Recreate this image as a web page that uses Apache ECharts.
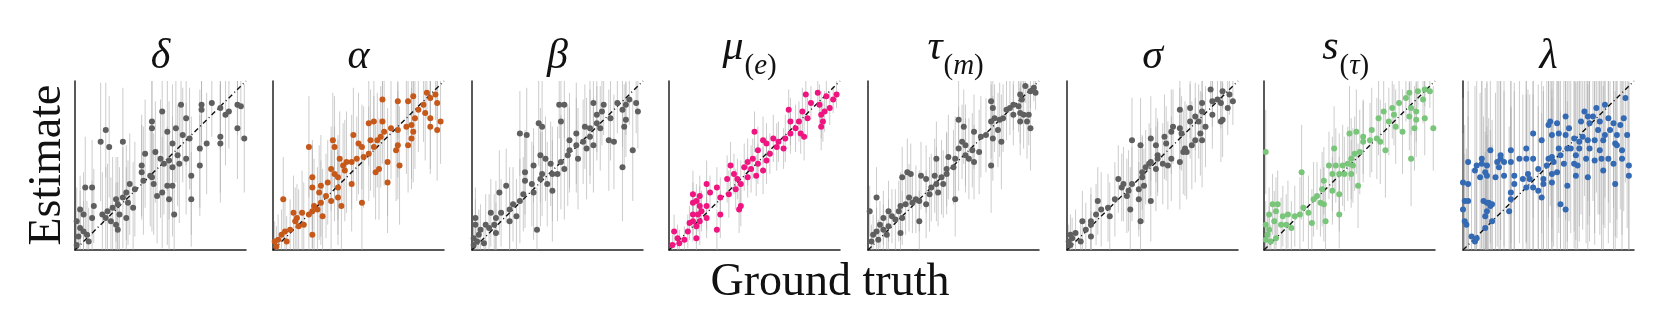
<!DOCTYPE html>
<html>
<head>
<meta charset="utf-8">
<script src="https://cdn.jsdelivr.net/npm/echarts@6/dist/echarts.min.js"></script>
<style>
  html, body { margin: 0; background: #fff; }
  #chart { width: 1661px; height: 332px; }
</style>
</head>
<body>
<div id="chart"></div>
<script>
// each row: [ground truth, estimate, error half-width], all on a 0-100 scale
const deltaRows = [[18,71,28],[15,64,35],[20,61,30],[28,64,32],[6,37,30],[10,37,28],[51,82,25],[45,76,30],[45,72,28],[62,86,20],[74,86,22],[74,83,25],[80,87,20],[85,84,25],[88,80,30],[90,82,22],[95,86,18],[97,85,20],[95,72,30],[99,66,32],[65,78,28],[59,72,32],[54,70,35],[67,66,30],[63,68,28],[57,63,35],[73,60,35],[77,63,30],[85,67,33],[85,63,35],[41,57,32],[47,58,30],[50,54,35],[52,51,30],[55,53,35],[60,56,30],[65,54,33],[61,51,35],[57,49,30],[39,50,30],[39,46,28],[45,43,32],[46,39,30],[51,34,33],[54,38,35],[57,38,30],[55,30,32],[48,32,28],[68,44,35],[73,50,30],[68,30,28],[58,21,30],[32,39,30],[35,36,28],[40,41,32],[44,44,30],[30,34,28],[28,31,30],[25,27,28],[24,30,25],[22,25,30],[19,23,28],[16,21,25],[18,19,30],[21,17,26],[26,21,28],[30,19,30],[34,25,27],[31,28,25],[11,26,22],[3,24,20],[5,21,25],[10,19,22],[1,17,20],[3,13,22],[5,11,18],[7,9,20],[2,8,18],[8,5,20],[1,3,15],[25,12,28],[24,15,25]];
const alphaRows = [[6,30,25],[21,61,30],[35,65,28],[36,61,30],[47,68,28],[50,63,30],[52,61,25],[57,65,30],[56,75,25],[59,76,28],[64,76,25],[64,89,20],[73,88,22],[79,88,20],[82,91,18],[90,93,15],[92,90,20],[95,92,15],[96,87,18],[88,86,22],[85,83,25],[89,81,28],[92,78,30],[98,76,25],[96,71,30],[92,73,28],[83,78,30],[81,74,32],[78,73,28],[82,70,30],[73,71,28],[69,72,30],[65,70,32],[63,67,30],[61,65,28],[59,61,30],[73,62,32],[72,59,30],[79,62,28],[81,66,30],[67,52,32],[62,48,30],[60,46,28],[74,50,35],[67,40,30],[56,57,28],[53,55,30],[49,54,25],[46,52,28],[43,52,30],[41,50,25],[39,54,28],[42,47,30],[46,39,28],[38,43,25],[38,37,28],[34,48,25],[36,45,28],[32,40,25],[28,38,30],[23,43,22],[23,37,25],[27,34,28],[31,32,25],[34,29,30],[40,26,28],[28,28,25],[24,26,28],[23,23,22],[26,24,25],[29,20,28],[21,21,22],[17,22,25],[14,19,20],[12,22,22],[13,17,20],[15,14,22],[18,15,25],[10,12,18],[7,11,20],[5,9,15],[3,6,15],[1,5,12],[2,2,12],[8,5,15],[23,9,25],[52,28,30],[38,31,28]];
const betaRows = [[28,69,25],[32,68,28],[39,75,25],[41,73,28],[51,86,20],[54,86,20],[52,76,25],[57,65,28],[61,69,30],[62,54,30],[66,73,25],[69,72,28],[71,87,18],[73,80,22],[76,82,20],[77,86,18],[81,78,25],[85,87,18],[88,83,22],[90,86,18],[92,89,15],[96,87,18],[97,82,22],[94,59,30],[88,49,32],[89,73,25],[90,77,22],[83,64,28],[80,65,30],[75,72,25],[73,75,22],[69,67,28],[67,60,30],[71,62,28],[65,64,25],[61,62,28],[57,59,25],[56,56,30],[52,52,28],[54,48,30],[50,45,28],[46,51,25],[47,45,28],[43,54,25],[40,56,28],[41,45,25],[40,42,28],[44,39,25],[47,35,30],[36,50,22],[31,46,25],[31,41,28],[35,39,25],[36,34,28],[30,33,22],[28,29,25],[24,27,22],[22,24,25],[20,38,22],[16,34,25],[17,22,20],[14,19,22],[11,22,20],[13,15,18],[10,13,20],[8,15,18],[5,12,15],[2,19,18],[2,15,15],[4,9,15],[1,7,12],[3,5,12],[7,4,12],[1,3,10],[14,10,18],[38,12,25],[26,20,22],[22,17,20]];
const muRows = [[50,70,12],[36,50,14],[40,42,12],[34,42,14],[42,26,12],[41,24,14],[28,12,12],[22,39,14],[28,37,12],[24,34,10],[18,32,12],[14,33,14],[14,28,12],[16,29,10],[18,26,12],[22,26,14],[19,23,12],[17,21,10],[14,21,12],[12,16,10],[14,17,12],[18,17,14],[22,19,12],[16,14,10],[11,11,10],[9,6,8],[5,7,8],[3,11,10],[2,3,6],[6,4,8],[16,7,10],[30,21,14],[30,31,12],[35,33,14],[39,36,12],[42,39,14],[46,43,12],[48,48,14],[52,51,12],[55,47,14],[51,44,12],[57,53,14],[59,57,12],[63,61,14],[67,60,12],[68,66,14],[71,69,12],[74,72,14],[77,69,12],[79,67,14],[76,76,12],[78,82,14],[70,83,12],[71,76,14],[81,78,12],[83,87,10],[88,86,12],[89,80,14],[90,76,12],[89,73,14],[91,82,12],[94,84,10],[96,89,8],[98,92,8],[92,91,10],[87,93,8],[80,92,10],[55,65,14],[57,63,12],[52,59,14],[49,54,12],[44,49,14],[38,45,12],[46,52,14],[64,64,12],[61,66,14]];
const tauRows = [[53,77,25],[56,73,22],[40,54,22],[47,55,25],[39,44,22],[31,44,20],[25,45,18],[23,46,20],[20,43,18],[5,31,18],[1,23,15],[72,88,15],[73,84,18],[72,76,22],[74,78,20],[77,77,22],[79,78,20],[81,83,18],[83,84,16],[85,86,15],[89,92,12],[92,97,10],[95,94,10],[97,96,8],[98,93,10],[90,89,12],[88,85,15],[89,81,18],[91,80,20],[94,80,18],[93,76,22],[95,72,25],[89,76,20],[85,80,18],[76,71,22],[73,66,25],[78,64,28],[72,50,28],[69,68,22],[66,67,24],[62,70,22],[65,58,25],[61,59,22],[57,62,24],[55,64,22],[53,60,25],[57,56,22],[59,54,24],[62,52,22],[51,54,25],[50,49,22],[46,45,24],[43,43,22],[44,39,20],[40,39,22],[37,37,20],[36,33,22],[41,34,20],[51,30,22],[34,27,20],[30,29,18],[28,30,20],[26,28,18],[24,31,20],[22,27,18],[19,26,20],[18,23,18],[20,19,16],[16,18,18],[14,20,16],[12,23,18],[9,19,16],[7,15,14],[9,12,15],[11,9,14],[5,11,14],[3,9,12],[2,5,10],[6,6,12],[12,14,16],[30,17,18],[19,10,14],[46,48,22],[34,42,20]];
const sigmaRows = [[38,65,25],[43,62,28],[49,66,25],[52,62,22],[57,67,25],[58,63,22],[61,70,25],[66,83,20],[62,73,22],[66,72,24],[67,69,22],[69,60,28],[68,58,25],[72,76,22],[72,84,18],[75,79,20],[77,76,22],[79,82,18],[79,87,16],[81,73,24],[84,95,10],[85,80,20],[85,88,15],[88,89,14],[91,94,10],[90,87,15],[95,92,12],[97,88,14],[94,84,16],[91,77,22],[90,76,24],[78,69,25],[79,65,28],[75,65,25],[73,62,26],[70,58,28],[66,52,28],[61,54,25],[59,50,26],[56,51,24],[53,54,22],[52,48,25],[48,51,24],[46,49,22],[44,43,24],[45,38,22],[42,36,24],[38,39,22],[36,35,24],[33,39,22],[30,42,20],[35,32,22],[37,24,25],[42,30,22],[49,29,24],[43,17,22],[32,37,20],[28,30,22],[24,25,20],[20,24,22],[18,29,20],[17,21,18],[14,17,20],[14,15,18],[11,12,16],[9,17,18],[5,10,14],[3,7,12],[1,5,10],[2,9,12],[2,3,8],[8,5,12],[14,8,15],[25,20,20],[44,46,22],[49,52,20],[53,56,22]];
const sTauRows = [[1,58,25],[22,46,28],[41,60,25],[50,69,28],[54,70,25],[58,67,22],[63,71,25],[67,78,22],[70,82,20],[75,84,18],[79,87,16],[83,90,14],[85,93,12],[90,94,10],[94,95,10],[97,94,10],[93,89,14],[94,78,22],[99,72,25],[89,82,18],[86,84,16],[85,79,20],[89,77,22],[88,72,25],[81,70,25],[77,73,22],[73,76,20],[76,80,18],[71,59,28],[68,64,25],[66,66,24],[62,65,22],[58,64,24],[56,58,25],[53,57,22],[51,54,24],[49,51,22],[46,50,24],[42,50,22],[38,50,20],[40,45,22],[44,45,24],[47,45,22],[51,45,20],[52,50,22],[55,38,25],[35,41,20],[34,36,22],[31,32,20],[29,30,22],[33,28,20],[35,27,22],[40,35,20],[44,33,22],[44,21,20],[36,17,22],[28,16,20],[26,22,22],[23,25,20],[21,21,22],[18,20,18],[14,21,20],[11,20,18],[7,23,20],[5,27,18],[8,27,20],[3,21,16],[6,17,18],[10,15,16],[13,15,18],[16,13,16],[3,12,14],[1,15,14],[2,9,12],[1,6,10],[4,5,10],[7,7,12],[86,54,28]];
const lambdaRows = [[3,52,50],[3,39,55],[0,40,50],[1,29,45],[3,29,50],[0,24,45],[1,17,40],[2,15,45],[5,8,40],[7,5,45],[8,7,40],[13,13,45],[13,20,50],[14,23,45],[12,29,50],[14,28,45],[15,28,50],[16,26,45],[17,27,50],[17,17,45],[27,23,50],[28,30,55],[28,34,50],[30,39,55],[35,42,50],[37,37,55],[38,45,50],[41,37,55],[46,31,50],[47,42,55],[44,48,50],[41,54,55],[37,54,50],[37,60,55],[33,54,50],[28,52,55],[24,52,50],[22,54,55],[20,52,50],[21,49,55],[24,44,50],[30,44,55],[19,43,50],[14,44,55],[13,46,50],[14,50,55],[11,51,50],[8,50,55],[7,47,50],[11,54,55],[10,43,50],[16,59,55],[22,56,50],[28,59,55],[41,69,50],[46,65,55],[51,76,50],[50,74,55],[55,75,50],[52,68,55],[56,69,50],[60,79,55],[60,68,50],[62,72,55],[56,60,50],[61,60,55],[63,60,50],[57,56,55],[52,55,50],[50,54,55],[53,52,50],[55,46,55],[52,45,50],[59,51,55],[65,51,50],[66,44,55],[61,38,50],[57,27,55],[60,24,50],[67,50,55],[66,56,50],[68,60,55],[68,64,50],[70,67,55],[73,65,50],[74,60,55],[72,54,50],[73,43,55],[77,53,50],[77,65,55],[80,59,50],[81,54,55],[73,79,50],[74,75,55],[78,84,50],[83,86,55],[85,78,50],[86,71,55],[79,71,50],[80,76,55],[88,75,50],[89,63,55],[90,68,50],[90,62,55],[92,74,50],[94,78,55],[93,59,50],[93,54,55],[95,90,50],[96,68,55],[97,50,50],[97,44,55],[85,54,50],[88,51,55],[82,47,50],[89,39,55],[82,65,50],[83,68,55],[71,82,50],[69,76,55],[76,79,50],[65,66,55],[52,40,50],[47,39,55],[44,35,50],[49,50,55],[39,42,50]];

const panels = [deltaRows, alphaRows, betaRows, muRows, tauRows, sigmaRows, sTauRows, lambdaRows];
const titleMain = ['δ', 'α', 'β', 'μ', 'τ', 'σ', 's', 'λ'];
const titleSub = ['', '', '', 'e', 'm', '', 'τ', ''];
const pointColors = ['#5f5f5f', '#c6581a', '#5f5f5f', '#ef1480', '#5f5f5f', '#5f5f5f', '#79c57a', '#3469b3'];

const gridLeft = [75, 273, 472, 669, 868, 1067, 1264, 1463];
const gridTop = 81, gridW = 171, gridH = 169;
const serif = '"Liberation Serif", "DejaVu Serif", serif';

const chart = echarts.init(document.getElementById('chart'));

const grids = [], xAxes = [], yAxes = [], series = [], graphics = [];
const axisBase = {
  type: 'value', min: 0, max: 100,
  axisLine: { show: true, lineStyle: { color: '#222', width: 1.5 } },
  axisTick: { show: false }, axisLabel: { show: false }, splitLine: { show: false }
};

panels.forEach((rows, i) => {
  grids.push({ left: gridLeft[i], top: gridTop, width: gridW, height: gridH });
  xAxes.push(Object.assign({ gridIndex: i }, axisBase));
  yAxes.push(Object.assign({ gridIndex: i }, axisBase));

  // error bars
  series.push({
    type: 'custom', xAxisIndex: i, yAxisIndex: i, silent: true, z: 1,
    encode: { x: 0, y: [1, 2] },
    data: rows.map(r => [r[0], Math.max(0, r[1] - r[2]), Math.min(100, r[1] + r[2])]),
    renderItem: (params, api) => {
      const a = api.coord([api.value(0), api.value(1)]);
      const b = api.coord([api.value(0), api.value(2)]);
      return {
        type: 'line',
        shape: { x1: a[0], y1: a[1], x2: b[0], y2: b[1] },
        style: { stroke: 'rgba(170,170,170,0.6)', lineWidth: 1 }
      };
    }
  });
  // identity line
  series.push({
    type: 'line', xAxisIndex: i, yAxisIndex: i, silent: true, z: 2,
    data: [[0, 0], [100, 100]], symbol: 'none',
    lineStyle: { color: '#111', width: 1.4, type: [5, 3, 1, 3] }
  });
  series.push({
    type: 'scatter', xAxisIndex: i, yAxisIndex: i, z: 3,
    data: rows.map(r => [r[0], r[1]]),
    symbolSize: 6,
    itemStyle: { color: pointColors[i], opacity: 1 }
  });

  // panel titles
  const cx = gridLeft[i] + gridW / 2;
  if (!titleSub[i]) {
    graphics.push({
      type: 'text', x: cx, y: 57,
      style: { text: titleMain[i], font: 'italic 42px ' + serif, fill: '#111', align: 'center', verticalAlign: 'middle' }
    });
  } else {
    graphics.push({
      type: 'text', x: cx - 11, y: 48,
      style: { text: titleMain[i], font: 'italic 42px ' + serif, fill: '#111', align: 'right', verticalAlign: 'middle' }
    });
    graphics.push({
      type: 'text', x: cx - 10, y: 66,
      style: {
        text: '{p|(}{v|' + titleSub[i] + '}{p|)}',
        align: 'left', verticalAlign: 'middle',
        rich: {
          p: { font: '29px ' + serif, fill: '#111' },
          v: { font: 'italic 29px ' + serif, fill: '#111' }
        }
      }
    });
  }
});

graphics.push({
  type: 'text', x: 48, y: 165, rotation: Math.PI / 2,
  style: { text: 'Estimate', font: '46px ' + serif, fill: '#111', align: 'center', verticalAlign: 'middle' }
});
graphics.push({
  type: 'text', x: 830, y: 283,
  style: { text: 'Ground truth', font: '46px ' + serif, fill: '#111', align: 'center', verticalAlign: 'middle' }
});

chart.setOption({
  animation: false,
  backgroundColor: '#fff',
  grid: grids,
  xAxis: xAxes,
  yAxis: yAxes,
  series: series,
  graphic: graphics
});
</script>
</body>
</html>
